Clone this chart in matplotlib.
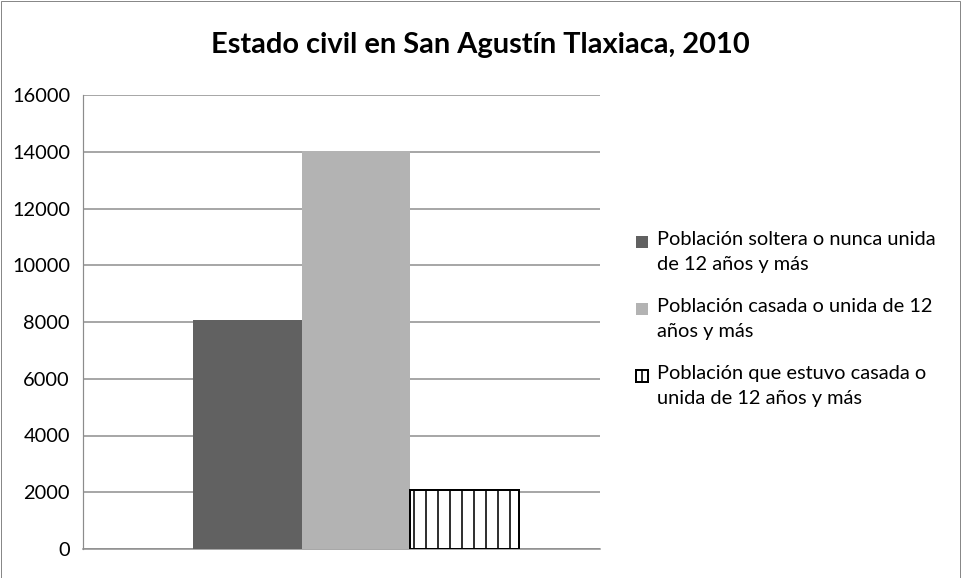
import matplotlib
matplotlib.use("Agg")
import matplotlib.pyplot as plt
from matplotlib.patches import Rectangle

plt.rcParams['font.family'] = ['Lato', 'DejaVu Sans']
plt.rcParams['hatch.linewidth'] = 1.6

title = "Estado civil en San Agustín Tlaxiaca, 2010"
series = ["Población soltera o nunca unida\nde 12 años y más",
          "Población casada o unida de 12\naños y más",
          "Población que estuvo casada o\nunida de 12 años y más"]
values = [8060, 14030, 2070]
colors = ["#616161", "#b3b3b3", "white"]
hatches = [None, None, "|"]
yticks = [0, 2000, 4000, 6000, 8000, 10000, 12000, 14000, 16000]

DPI = 72
W, H = 961, 578
fig = plt.figure(figsize=(W / DPI, H / DPI), dpi=DPI)
fig.patch.set_facecolor("white")
fig.add_artist(Rectangle((0.5 / W, 0.5 / H), 1 - 1.5 / W, 1 - 1.5 / H,
                         transform=fig.transFigure, fill=False,
                         edgecolor="#888888", linewidth=1))

ax = fig.add_axes([83 / W, 1 - 549 / H, (600 - 83) / W, (549 - 95) / H])
bw = 0.21
center = 0.028
offsets = [center - bw, center, center + bw]
for i in range(3):
    ax.bar(offsets[i], values[i], width=bw, color=colors[i],
           hatch=hatches[i], edgecolor="black" if hatches[i] else colors[i],
           linewidth=2 if hatches[i] else 0, label=series[i], zorder=3)

ax.set_xlim(-0.5, 0.5)
ax.set_ylim(0, 16000)
ax.set_yticks(yticks)
ax.set_yticklabels([str(v) for v in yticks], fontsize=20)
ax.set_xticks([])
ax.grid(axis="y", color="#8c8c8c", linewidth=1.5, zorder=0)
for s in ["top", "right"]:
    ax.spines[s].set_visible(False)
ax.spines["left"].set_color("#8c8c8c")
ax.spines["bottom"].set_color("#8c8c8c")
ax.spines["left"].set_linewidth(1.2)
ax.spines["bottom"].set_linewidth(1.5)
ax.tick_params(axis="y", length=0, pad=13, colors="black")

fig.text(480 / W, 1 - 45 / H, title, ha="center", va="center",
         fontsize=29, fontweight="bold")

# legend (handle aligned with first text line, as in the reference)
leg_y = [242, 309, 376]
for i in range(3):
    y = leg_y[i]
    fig.add_artist(Rectangle((636 / W, 1 - (y + 6) / H), 12 / W, 12 / H,
                             transform=fig.transFigure, facecolor=colors[i],
                             hatch=hatches[i],
                             edgecolor="black" if hatches[i] else colors[i],
                             linewidth=2 if hatches[i] else 0))
    fig.text(657 / W, 1 - (y - 11) / H, series[i], ha="left", va="top",
             fontsize=20, linespacing=1.6)

fig.savefig("out.png", dpi=DPI)
